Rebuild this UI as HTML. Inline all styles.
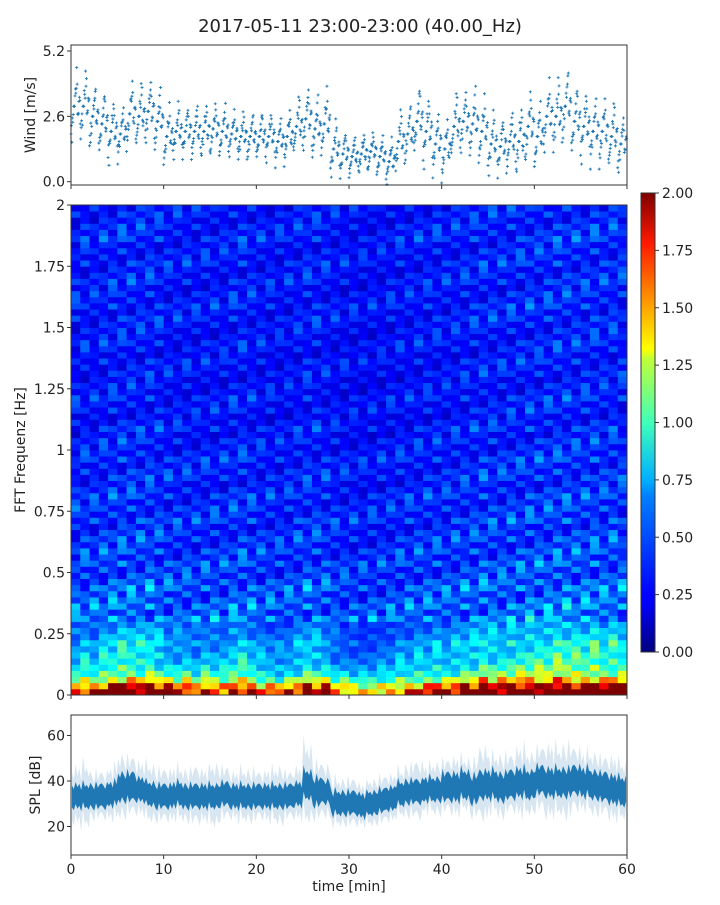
<!DOCTYPE html>
<html><head><meta charset="utf-8"><style>
body{margin:0;background:#fff;width:720px;height:900px;overflow:hidden;font-family:"Liberation Sans","DejaVu Sans",sans-serif}
text{font-family:"DejaVu Sans","Liberation Sans",sans-serif;fill:#222}
</style></head><body>
<svg id="chart" width="720" height="900" xmlns="http://www.w3.org/2000/svg">
<text x="360" y="32" font-size="18" text-anchor="middle">2017-05-11 23:00-23:00 (40.00_Hz)</text>
<defs><linearGradient id="jet" x1="0" y1="1" x2="0" y2="0">
<stop offset="0" stop-color="#00007f"/><stop offset="0.11" stop-color="#0000ff"/><stop offset="0.125" stop-color="#0000ff"/><stop offset="0.34" stop-color="#0080ff"/><stop offset="0.375" stop-color="#00b0ff"/><stop offset="0.5" stop-color="#40ffb8"/><stop offset="0.64" stop-color="#c0ff37"/><stop offset="0.66" stop-color="#ffff00"/><stop offset="0.89" stop-color="#ff1a00"/><stop offset="1" stop-color="#7f0000"/>
</linearGradient></defs>
<g id="wind"></g>
<g id="spec"></g>
<g id="cbar"></g>
<g id="spl"></g>
</svg>
<script>
// ---- data ----
const windMid=[3.0,3.0,2.6,2.3,2.0,1.9,2.7,2.6,2.8,2.4,1.8,2.0,2.0,2.0,2.0,2.1,2.0,1.9,1.8,1.8,1.8,1.8,1.6,1.8,2.2,2.5,2.1,2.3,1.3,1.1,1.0,1.1,1.2,1.0,0.8,1.6,1.9,2.4,2.0,1.5,1.3,2.2,2.4,2.3,2.0,1.5,1.4,1.6,1.6,2.2,1.8,2.6,2.6,3.0,2.4,2.2,2.0,2.0,1.8,1.5];
const windSpread=[1.1,1.0,0.9,0.9,0.9,0.8,1.0,1.0,1.0,0.9,0.9,0.8,0.8,0.8,0.8,0.8,0.8,0.7,0.7,0.7,0.7,0.7,0.7,0.8,0.9,1.0,0.9,1.0,0.8,0.7,0.6,0.6,0.6,0.6,0.7,0.9,0.9,1.0,1.0,0.9,0.9,1.0,1.0,1.0,1.0,0.9,0.9,0.9,1.0,1.1,1.0,1.1,1.1,1.1,1.0,1.0,1.0,1.0,1.0,0.9];
const splMid=[33,33,33,33,34,37,37,36,34,33,33,34,33,33,33,33,34,33,33,33,33,33,33,33,34,38,35,35,30,30,30,29,30,31,32,34,35,35,36,36,37,37,38,36,38,38,37,38,39,38,40,39,39,39,40,39,38,37,36,35];
const splCore=[5,5,5,5,5,6,6,5,5,5,5,5,5,5,5,5,5,5,5,5,5,5,5,5,5,6,6,5,5,5,5,5,5,5,5,5,5,5,5,5,6,6,6,6,6,6,6,6,6,6,6,6,6,6,6,6,6,6,6,6];
const splTail=[11,12,9,9,10,12,11,10,11,10,10,10,10,11,10,12,10,9,10,10,9,10,11,9,10,15,11,10,9,9,9,8,9,9,9,9,10,11,9,10,10,11,10,11,14,11,12,11,13,12,12,14,13,14,12,11,12,11,12,11];
const freqProfile=[1.8,1.5,1.05,0.8,0.7,0.62,0.6,0.55,0.58,0.5,0.48,0.44,0.5,0.4,0.46,0.42,0.38,0.44,0.4,0.36,0.36,0.4,0.33,0.38,0.32,0.36,0.34,0.3,0.37,0.32,0.34,0.3,0.35,0.31,0.28,0.33,0.32,0.29,0.34,0.3,0.28,0.31,0.26,0.32,0.28,0.25,0.3,0.27,0.31,0.26,0.28,0.25,0.29,0.27,0.3,0.25,0.28,0.3,0.26,0.28,0.28,0.31,0.27,0.32,0.28,0.3,0.26,0.31,0.29,0.27,0.32,0.28,0.3,0.27,0.33,0.29,0.31,0.27,0.3,0.29];
const timeLevel=[1.0,1.05,1.0,1.1,1.15,1.2,1.2,1.15,1.2,1.1,1.0,1.0,1.0,0.95,1.0,1.0,0.95,1.1,1.1,1.05,0.95,0.95,0.9,0.95,1.0,1.1,1.05,1.0,0.9,0.85,0.85,0.8,0.85,0.85,0.9,0.95,0.95,1.0,1.0,1.05,1.0,1.05,1.1,1.1,1.2,1.15,1.1,1.2,1.15,1.25,1.2,1.25,1.3,1.3,1.25,1.25,1.3,1.2,1.25,1.2];
const tex=[1.0,0.7,1.3,0.85,1.15,0.6,1.5,0.9,1.05,0.75,1.25,0.95,0.65,1.4,0.8,1.1,1.2];
const xTicks=[0,10,20,30,40,50,60];
const windTicks=[0.0,2.6,5.2];
const freqTicks=[0,0.25,0.5,0.75,1,1.25,1.5,1.75,2];
const freqTickLabels=["0","0.25","0.5","0.75","1","1.25","1.5","1.75","2"];
const splTicks=[20,40,60];
const cbTicks=[0,0.25,0.5,0.75,1,1.25,1.5,1.75,2];
// ---- layout ----
const X0=71,X1=627;
const xs=t=>X0+(X1-X0)*t/60;
const NS='http://www.w3.org/2000/svg';
function mk(p,tag,a){const e=document.createElementNS(NS,tag);for(const k in a)e.setAttribute(k,a[k]);p.appendChild(e);return e;}
function jet(v){v=Math.max(0,Math.min(1,v));const r=Math.max(0,Math.min(1,1.5-Math.abs(4*v-3))),g=Math.max(0,Math.min(1,1.5-Math.abs(4*v-2))),b=Math.max(0,Math.min(1,1.5-Math.abs(4*v-1)));return `rgb(${r*255|0},${g*255|0},${b*255|0})`;}
function xaxis(g,y0,labels){xTicks.forEach(t=>{const l=mk(g,'line',{x1:xs(t),x2:xs(t),y1:y0,y2:y0+4,stroke:'#333'});
 if(labels){const tx=mk(g,'text',{x:xs(t),y:y0+19,'font-size':14,'text-anchor':'middle'});tx.textContent=t;}});}
function ylabel(g,x,y,txt,name){const t=mk(g,'text',{x:x,y:y,'font-size':14,'text-anchor':'middle',transform:`rotate(-90 ${x} ${y})`});t.textContent=txt;}
// ---- wind ----
(function(){const g=document.getElementById('wind');const T=45,B=185;const ys=v=>181.7-(v)*130.7/5.2;
 windMid.forEach((m,i)=>{[-1,-0.5,0,0.5,1,-0.25,0.25].forEach((k,j)=>{for(let s=0;s<3;s++){const t=i+(j*3+s)/21;const v=m+k*windSpread[i]*tex[(i+j*3+s)%tex.length];const x=xs(t),y=ys(v);
  const p=mk(g,'path',{d:`M${x-1.5},${y}h3M${x},${y-1.5}v3`,stroke:'#1f77b4','stroke-width':0.9});}});});
 const r=mk(g,'rect',{x:X0,y:T,width:X1-X0,height:B-T,fill:'none',stroke:'#333'});
 windTicks.forEach(v=>{mk(g,'line',{x1:X0-4,x2:X0,y1:ys(v),y2:ys(v),stroke:'#333'});const t=mk(g,'text',{x:X0-6,y:ys(v)+5,'font-size':14,'text-anchor':'end'});t.textContent=v.toFixed(1);});
 xaxis(g,B,false);ylabel(g,35,115,'Wind [m/s]','wind-y-axis-title');})();
// ---- spectrogram ----
(function(){const g=document.getElementById('spec');const T=205,B=695;const nr=freqProfile.length,nc=timeLevel.length;const rh=(B-T)/nr,cw=(X1-X0)/nc;
 for(let c=0;c<nc;c++)for(let r=0;r<nr;r++){const v=freqProfile[r]*(1+(timeLevel[c]-1)*(r<12?1.5:0.5))*(1+(tex[(r*7+c*5)%tex.length]-1)*(r<12?0.6:1.1));
  const e=mk(g,'rect',{x:(X0+c*cw).toFixed(2),y:(B-(r+1)*rh).toFixed(2),width:(cw+0.5).toFixed(2),height:(rh+0.4).toFixed(2),fill:jet(v/2)});}
 const r=mk(g,'rect',{x:X0,y:T,width:X1-X0,height:B-T,fill:'none',stroke:'#333'});
 const ys=f=>B-(B-T)*f/2;
 freqTicks.forEach((f,i)=>{mk(g,'line',{x1:X0-4,x2:X0,y1:ys(f),y2:ys(f),stroke:'#333'});const t=mk(g,'text',{x:X0-6,y:ys(f)+5,'font-size':14,'text-anchor':'end'});t.textContent=freqTickLabels[i];});
 xaxis(g,B,false);ylabel(g,25,450,'FFT Frequenz [Hz]','freq-y-axis-title');})();
// ---- colorbar ----
(function(){const g=document.getElementById('cbar');const T=193,B=652;const r=mk(g,'rect',{x:641,y:T,width:14,height:B-T,fill:'url(#jet)',stroke:'#333'});
 cbTicks.forEach(v=>{const y=B-(B-T)*v/2;mk(g,'line',{x1:655,x2:659,y1:y,y2:y,stroke:'#333'});const t=mk(g,'text',{x:662,y:y+5,'font-size':14});t.textContent=v.toFixed(2);});})();
// ---- SPL ----
(function(){const g=document.getElementById('spl');const T=715,B=855;const ys=v=>781-(v-40)*45.5/20;
 function band(half,fill,op,name){let up=[],dn=[];splMid.forEach((m,i)=>{const h=half[i];[0,0.2,0.4,0.6,0.8].forEach((f,k)=>{const t=Math.min(60,i+f+0.1);const q=tex[(i*5+k)%tex.length];up.push(`${xs(t).toFixed(1)},${ys(m+h*q).toFixed(1)}`);dn.unshift(`${xs(t).toFixed(1)},${ys(m-h*(2-q)*0.9).toFixed(1)}`);});});
  const p=mk(g,'polygon',{points:up.concat(dn).join(' '),fill:fill,'fill-opacity':op});}
 band(splTail,'#1f77b4',0.18,'spl-envelope');band(splCore,'#1f77b4',1,'spl-band');
 const r=mk(g,'rect',{x:X0,y:T,width:X1-X0,height:B-T,fill:'none',stroke:'#333'});
 splTicks.forEach(v=>{mk(g,'line',{x1:X0-4,x2:X0,y1:ys(v),y2:ys(v),stroke:'#333'});const t=mk(g,'text',{x:X0-6,y:ys(v)+5,'font-size':14,'text-anchor':'end'});t.textContent=v;});
 xaxis(g,B,true);ylabel(g,40,785,'SPL [dB]','spl-y-axis-title');
 const t=mk(g,'text',{x:349,y:891,'font-size':14,'text-anchor':'middle'});t.textContent='time [min]';})();
</script>
</body></html>
